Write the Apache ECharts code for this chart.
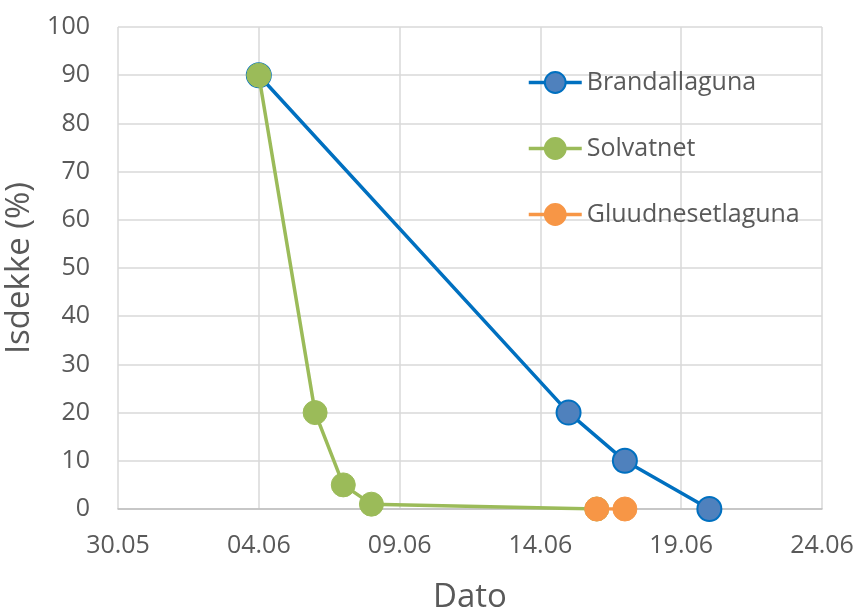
<!DOCTYPE html>
<html>
<head>
<meta charset="utf-8">
<script src="https://cdn.jsdelivr.net/npm/echarts@6/dist/echarts.min.js"></script>
<style>
  html, body { margin: 0; padding: 0; background: #fff; }
  #chart { width: 857px; height: 610px; }
</style>
</head>
<body>
<div id="chart"></div>
<script>
// Ice cover observations (date as DD.MM, cover in %)
const brandallagunaDates = ['04.06', '15.06', '17.06', '20.06'];
const brandallagunaValues = [90, 20, 10, 0];

const solvatnetDates = ['04.06', '06.06', '07.06', '08.06', '16.06'];
const solvatnetValues = [90, 20, 5, 1, 0];

const gluudnesetDates = ['16.06', '17.06'];
const gluudnesetValues = [0, 0];

const xTickLabels = ['30.05', '04.06', '09.06', '14.06', '19.06', '24.06'];
const yTicks = [0, 10, 20, 30, 40, 50, 60, 70, 80, 90, 100];

// Day offset from 30.05
const originMs = Date.UTC(2000, 4, 30);
function dayOffset(s) {
  const [d, m] = s.split('.').map(Number);
  return Math.round((Date.UTC(2000, m - 1, d) - originMs) / 86400000);
}
function toPairs(dates, values) {
  return dates.map((d, i) => [dayOffset(d), values[i]]);
}
function offsetLabel(v) {
  const dt = new Date(originMs + v * 86400000);
  const dd = String(dt.getUTCDate()).padStart(2, '0');
  const mm = String(dt.getUTCMonth() + 1).padStart(2, '0');
  return dd + '.' + mm;
}

const FONT = '"Open Sans", Lato, sans-serif';
const TEXT = '#595959';
const chart = echarts.init(document.getElementById('chart'));

chart.setOption({
  animation: false,
  textStyle: { fontFamily: FONT },
  grid: {
    left: 118, right: 35, top: 27, bottom: 101,
    containLabel: false,
    outerBoundsMode: 'none'
  },
  legend: {
    orient: 'vertical',
    left: 527,
    top: 70,
    padding: 0,
    itemGap: 41,
    itemWidth: 53,
    itemHeight: 26,
    lineStyle: { width: 3.5 },
    textStyle: { fontSize: 25, color: TEXT, fontFamily: FONT },
    data: ['Brandallaguna', 'Solvatnet', 'Gluudnesetlaguna']
  },
  xAxis: {
    type: 'value',
    min: dayOffset(xTickLabels[0]),
    max: dayOffset(xTickLabels[xTickLabels.length - 1]),
    interval: 5,
    name: 'Dato',
    nameLocation: 'middle',
    nameGap: 72,
    nameTextStyle: { fontSize: 33, color: TEXT, fontFamily: FONT },
    axisLine: { show: true, lineStyle: { color: '#bfbfbf', width: 1.5 } },
    axisTick: { show: false },
    axisLabel: {
      fontSize: 25, color: TEXT, margin: 24, fontFamily: FONT,
      formatter: v => offsetLabel(v)
    },
    splitLine: { show: true, lineStyle: { color: '#d9d9d9', width: 1.5 } }
  },
  yAxis: {
    type: 'value',
    min: yTicks[0],
    max: yTicks[yTicks.length - 1],
    interval: 10,
    name: 'Isdekke (%)',
    nameLocation: 'middle',
    nameGap: 64,
    nameTextStyle: { fontSize: 33, color: TEXT, fontFamily: FONT },
    axisLine: { show: false },
    axisTick: { show: false },
    axisLabel: { fontSize: 25, color: TEXT, margin: 28, fontFamily: FONT },
    splitLine: { show: true, lineStyle: { color: '#d9d9d9', width: 1.5 } }
  },
  series: [
    {
      name: 'Brandallaguna',
      type: 'line',
      data: toPairs(brandallagunaDates, brandallagunaValues),
      symbol: 'circle',
      symbolSize: 24,
      z: 2,
      lineStyle: { color: '#0070C0', width: 3.5 },
      itemStyle: { color: '#4F81BD', borderColor: '#0070C0', borderWidth: 2 }
    },
    {
      name: 'Solvatnet',
      type: 'line',
      data: toPairs(solvatnetDates, solvatnetValues),
      symbol: 'circle',
      symbolSize: 24,
      z: 3,
      lineStyle: { color: '#9BBB59', width: 3.5 },
      itemStyle: { color: '#9BBB59', borderColor: '#9BBB59', borderWidth: 1 }
    },
    {
      name: 'Gluudnesetlaguna',
      type: 'line',
      data: toPairs(gluudnesetDates, gluudnesetValues),
      symbol: 'circle',
      symbolSize: 24,
      z: 4,
      lineStyle: { color: '#F79646', width: 3.5 },
      itemStyle: { color: '#F79646', borderColor: '#F79646', borderWidth: 1 }
    }
  ]
});
</script>
</body>
</html>
